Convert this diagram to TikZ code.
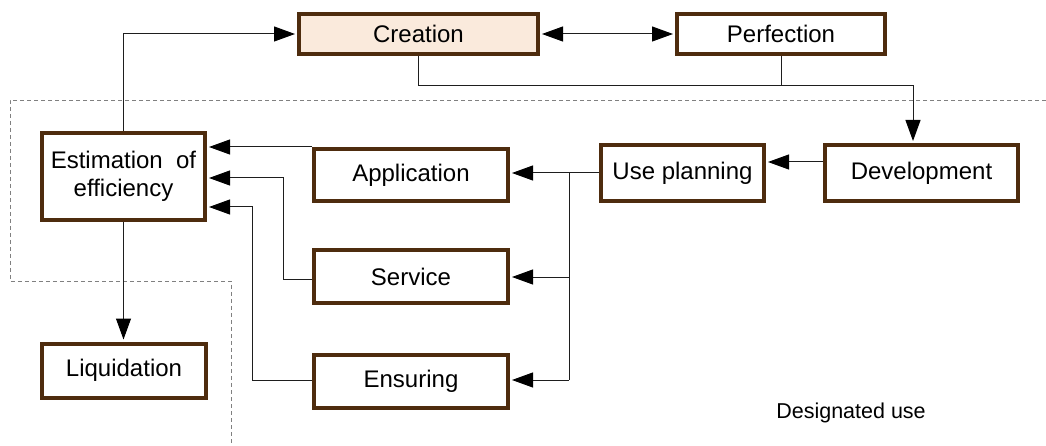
\documentclass[tikz,border=0pt]{standalone}
\usepackage{fontspec}
\setmainfont{Liberation Sans}
\usetikzlibrary{arrows.meta,calc}
\definecolor{boxbrown}{RGB}{78,44,14}
\definecolor{peach}{RGB}{250,234,220}
\definecolor{linegray}{RGB}{30,30,30}
\begin{document}
\begin{tikzpicture}[x=1pt,y=-1pt,
  box/.style={draw=boxbrown,line width=4pt,rectangle,inner sep=0pt,
    font=\fontsize{24}{28}\selectfont,align=center},
  conn/.style={draw=linegray,line width=1pt},
  tip/.style={Triangle[length=21pt,width=15pt,color=black]},
  arr/.style={conn,-{Triangle[length=21pt,width=15pt,color=black]},shorten >=2pt},
  darr/.style={conn,{Triangle[length=21pt,width=15pt,color=black]}-{Triangle[length=21pt,width=15pt,color=black]},shorten >=2pt,shorten <=2pt},
  region/.style={draw=gray,line width=0.8pt,dash pattern=on 4pt off 3pt}]
\useasboundingbox (0,0) rectangle (1046,446);
% dashed region
\draw[region] (1046,100) -- (10,100) -- (10,281) -- (231,281) -- (231,446);
% nodes
\node[box,fill=peach,minimum width=239pt,minimum height=40pt] (creation) at (418.5,34) {Creation};
\node[box,fill=white,minimum width=208pt,minimum height=40pt] (perfection) at (781,34) {Perfection};
\node[box,fill=white,minimum width=163pt,minimum height=87pt] (estimation) at (123.5,176.5) {Estimation~~of\\efficiency};
\node[box,fill=white,minimum width=194pt,minimum height=52pt] (application) at (411,175) {Application};
\node[box,fill=white,minimum width=194pt,minimum height=53pt] (service) at (411,276.5) {Service};
\node[box,fill=white,minimum width=194pt,minimum height=53pt] (ensuring) at (411,381) {Ensuring};
\node[box,fill=white,minimum width=164pt,minimum height=54pt] (liquidation) at (124,370.5) {Liquidation};
\node[box,fill=white,minimum width=163pt,minimum height=56pt] (useplanning) at (682.5,173) {Use planning};
\node[box,fill=white,minimum width=193pt,minimum height=56pt] (development) at (921.5,173) {Development};
\node[font=\fontsize{21.5}{25}\selectfont] (designated) at (851,413) {Designated use};
% coordinates
\coordinate (junc) at (913,86);
\coordinate (branch) at (569,173);
% connectors
\draw[darr] (creation.east) -- (perfection.west);
\draw[arr] (creation.south) |- (junc) -- (development.north -| junc);
\draw[conn] (perfection.south) -- (perfection.south |- junc);
\draw[arr] (estimation.north) |- (creation.west);
\draw[arr] (development.west |- 0,162) -- (useplanning.east |- 0,162);
\draw[arr] (useplanning.west) -- (application.east |- useplanning.west);
\draw[conn] (branch) -- (branch |- 0,380);
\draw[arr] (branch |- 0,277) -- (service.east |- 0,277);
\draw[arr] (branch |- 0,380) -- (ensuring.east |- 0,380);
\draw[arr] (application.west |- 0,147) -- (estimation.east |- 0,147);
\draw[arr] (service.west |- 0,279) -| (283,178) -- (estimation.east |- 0,178);
\draw[arr] (ensuring.west |- 0,380) -| (252,207) -- (estimation.east |- 0,207);
\draw[arr] (estimation.south) -- (liquidation.north -| estimation.south);
\end{tikzpicture}
\end{document}
